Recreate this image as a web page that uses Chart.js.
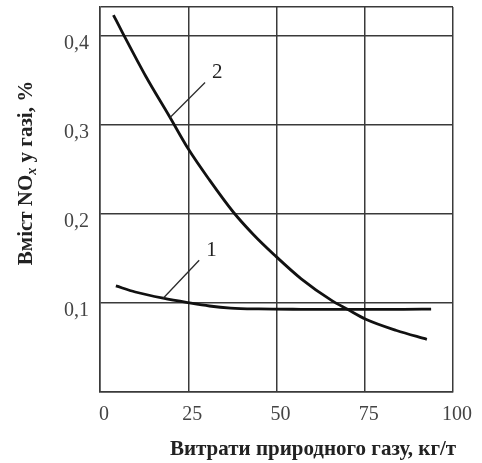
<!DOCTYPE html>
<html>
<head>
<meta charset="utf-8">
<script src="https://cdn.jsdelivr.net/npm/chart.js@4/dist/chart.umd.min.js"></script>
<style>
  html, body { margin: 0; padding: 0; background: #fff; }
  #wrap { width: 482px; height: 463px; }
</style>
</head>
<body>
<div id="wrap"><canvas id="noxChart" width="482" height="463"></canvas></div>
<script>
// Gas flow (kg/t) and NOx content (%) for both curves
const gasCurve1 = [4.5, 10, 17.9, 25, 31, 37, 45, 57, 72, 86, 93.8];
const noxCurve1 = [0.119, 0.1122, 0.1052, 0.1002, 0.0965, 0.0942, 0.0932, 0.0928, 0.0927, 0.0928, 0.0930];
const gasCurve2 = [3.8, 6.4, 13, 19.85, 24.9, 31, 37.8, 43.5, 49.4, 57, 65.7, 70.1, 75.3, 84, 92.6];
const noxCurve2 = [0.423, 0.403, 0.354, 0.308, 0.2735, 0.238, 0.2017, 0.1765, 0.1538, 0.127, 0.1025, 0.0928, 0.0816, 0.069, 0.0591];
const curveNames = ['1', '2'];
const xTicks = [0, 25, 50, 75, 100];
const yTicks = [0.1, 0.2, 0.3, 0.4];
const yTop = 0.432;

const ink = '#3a3a3a';
const serif = '"Liberation Serif", "Times New Roman", serif';

Chart.defaults.font.family = serif;

const toPoints = (xs, ys) => xs.map((x, i) => ({ x, y: ys[i] }));

// which point each number's leader line starts from, and its direction
const callouts = [
  { dataset: 0, index: 2, dx: 36, dy: 38 },
  { dataset: 1, index: 3, dx: 35, dy: 35 }
];

const titlesPlugin = {
  id: 'noxTitles',
  afterDatasetsDraw(chart) {
    const { ctx } = chart;
    ctx.save();

    // leader lines with curve numbers
    callouts.forEach(c => {
      const pt = chart.getDatasetMeta(c.dataset).data[c.index];
      const ex = pt.x + c.dx, ey = pt.y - c.dy;
      ctx.strokeStyle = '#2a2a2a';
      ctx.lineWidth = 1.3;
      ctx.beginPath();
      ctx.moveTo(pt.x, pt.y);
      ctx.lineTo(ex, ey);
      ctx.stroke();
      ctx.font = '21px ' + serif;
      ctx.fillStyle = '#222';
      ctx.textAlign = 'left';
      ctx.textBaseline = 'middle';
      ctx.fillText(curveNames[c.dataset], ex + 7, ey - 10);
    });

    // x axis title
    ctx.font = 'bold 21px ' + serif;
    ctx.fillStyle = '#222';
    ctx.textAlign = 'center';
    ctx.textBaseline = 'alphabetic';
    ctx.fillText('Витрати природного газу, кг/т', 313, 455);

    // y axis title, rotated, with subscript x in NOx
    const mainFont = 'bold 21px ' + serif;
    const subFont = 'italic bold 14px ' + serif;
    const parts = [
      { t: 'Вміст NO', f: mainFont, dy: 0 },
      { t: 'x', f: subFont, dy: 4 },
      { t: ' у газі, %', f: mainFont, dy: 0 }
    ];
    let total = 0;
    parts.forEach(p => { ctx.font = p.f; p.w = ctx.measureText(p.t).width; total += p.w; });
    ctx.translate(32, 173);
    ctx.rotate(-Math.PI / 2);
    ctx.textAlign = 'left';
    let cx = -total / 2;
    parts.forEach(p => {
      ctx.font = p.f;
      ctx.fillText(p.t, cx, p.dy);
      cx += p.w;
    });

    ctx.restore();
  }
};

const commaLabel = v => v.toFixed(1).replace('.', ',');

new Chart(document.getElementById('noxChart'), {
  type: 'line',
  data: {
    datasets: [
      { label: curveNames[0], data: toPoints(gasCurve1, noxCurve1) },
      { label: curveNames[1], data: toPoints(gasCurve2, noxCurve2) }
    ].map(d => Object.assign(d, {
      borderColor: '#111',
      borderWidth: 2.8,
      pointRadius: 0,
      fill: false,
      cubicInterpolationMode: 'monotone'
    }))
  },
  options: {
    responsive: false,
    animation: false,
    devicePixelRatio: 1,
    layout: { padding: { top: 7, right: 29, left: 0, bottom: 0 } },
    plugins: {
      legend: { display: false },
      tooltip: { enabled: false }
    },
    scales: {
      x: {
        type: 'linear',
        min: 0,
        max: 100,
        afterBuildTicks: s => { s.ticks = xTicks.map(v => ({ value: v })); },
        afterFit: s => { s.height = 71; s.paddingLeft = 0; s.paddingRight = 0; },
        grid: { color: ink, lineWidth: 1.5, drawTicks: false },
        border: { color: ink, width: 1.5 },
        ticks: {
          padding: 11,
          labelOffset: 4,
          maxRotation: 0,
          color: '#444',
          font: { size: 20 },
          callback: v => String(v)
        }
      },
      y: {
        min: 0,
        max: yTop,
        afterBuildTicks: s => { s.ticks = [0, ...yTicks, yTop].map(v => ({ value: v })); },
        afterFit: s => { s.width = 100; s.paddingTop = 0; s.paddingBottom = 0; },
        grid: { color: ink, lineWidth: 1.5, drawTicks: false },
        border: { color: ink, width: 1.5 },
        ticks: {
          padding: 11,
          labelOffset: 8,
          color: '#444',
          font: { size: 20 },
          callback: v => yTicks.some(t => Math.abs(t - v) < 1e-6) ? commaLabel(v) : ''
        }
      }
    }
  },
  plugins: [titlesPlugin]
});
</script>
</body>
</html>
